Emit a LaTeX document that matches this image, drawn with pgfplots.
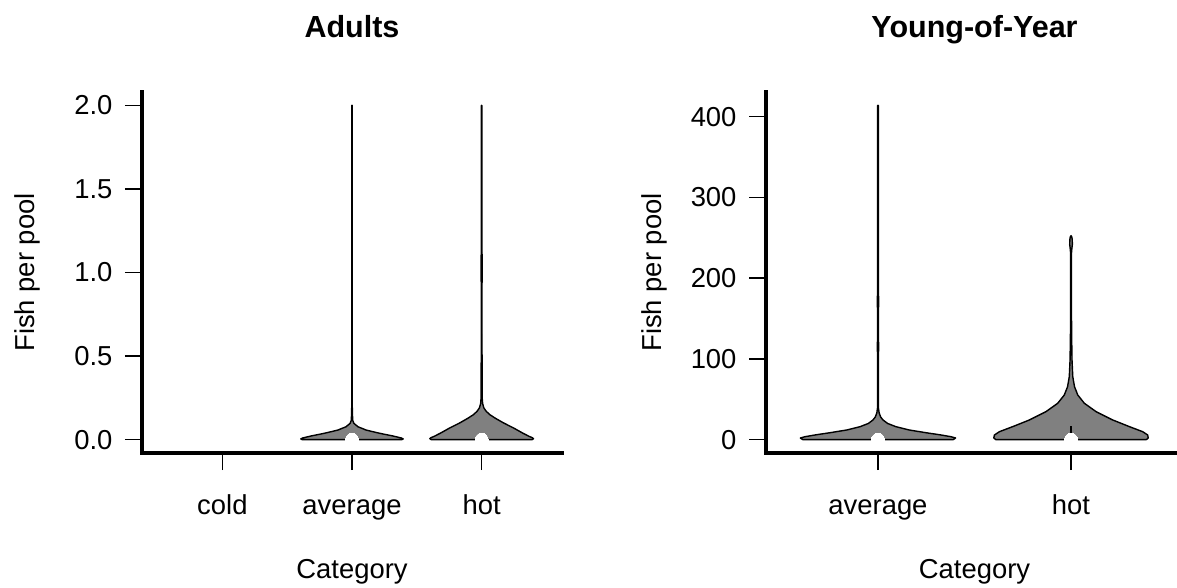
\documentclass[border=0pt]{standalone}
\usepackage{pgfplots}
\pgfplotsset{compat=1.18}
\usepackage{fontspec}
\setmainfont{Liberation Sans}
\definecolor{violgray}{RGB}{128,128,128}
\pgfplotsset{
  rstyle/.style={
    scale only axis,
    height=361pt,
    axis x line*=bottom,
    axis y line*=left,
    axis line style={line width=4pt, line cap=rect, black},
    tick align=outside,
    major tick length=17pt,
    tick style={line width=1.5pt, black},
    tick label style={font=\fontsize{27.4}{31}\selectfont},
    yticklabel style={xshift=-9pt},
    xticklabel style={text height=19pt, text depth=6pt, yshift=-22pt},
    /pgf/number format/assume math mode=true,
    title style={font=\bfseries\fontsize{30.5}{36}\selectfont, at={(axis description cs:0.5,1.133)}, anchor=base},
    xlabel style={font=\fontsize{27.4}{31}\selectfont, at={(axis description cs:0.5,-0.3463)}, anchor=base},
    ylabel style={font=\fontsize{27.4}{31}\selectfont, anchor=base},
    clip=false,
  },
  viol/.style={fill=violgray, draw=black, line width=1.4pt, line join=round, mark=none},
  med/.style={only marks, white, mark=*, mark size=6.5pt, mark options={draw=white, fill=white, line width=0pt}},
}
\begin{document}
\begin{tikzpicture}
\path[use as bounding box] (0,0) rectangle (1177pt,587pt);
% ---------------- Adults ----------------
\begin{axis}[rstyle,
  at={(142pt,134pt)}, anchor=south west,
  width=420pt,
  xmin=0.38, xmax=3.62, ymin=-0.08, ymax=2.08,
  xtick={1,2,3}, xticklabels={cold,average,hot},
  ytick={0,0.5,1,1.5,2},
  yticklabel style={/pgf/number format/.cd, fixed, fixed zerofill, precision=1},
  title={Adults}, xlabel={Category}, ylabel={Fish per pool},
  ylabel style={at={(axis description cs:-0.2548,0.5)}},
]
\addplot[viol] coordinates {
(1.615,0) (1.605,0.004) (1.620,0.010) (1.685,0.022) (1.787,0.038) (1.890,0.057) (1.954,0.077) (1.986,0.098) (1.995,0.117) (1.998,0.2) (1.998,2.0)
(2.002,2.0) (2.002,0.2) (2.005,0.117) (2.014,0.098) (2.046,0.077) (2.110,0.057) (2.213,0.038) (2.315,0.022) (2.380,0.010) (2.395,0.004) (2.385,0) (1.615,0)};
\addplot[viol] coordinates {
(2.610,0) (2.600,0.006) (2.610,0.012) (2.635,0.02) (2.685,0.04) (2.754,0.07) (2.831,0.1) (2.892,0.127) (2.938,0.15) (2.965,0.17) (2.983,0.19) (2.992,0.215) (2.996,0.25) (2.998,0.9) (2.9965,0.95) (2.9965,1.1) (2.998,1.15) (2.998,2.0)
(3.002,2.0) (3.002,1.15) (3.0035,1.1) (3.0035,0.95) (3.002,0.9) (3.004,0.25) (3.008,0.215) (3.017,0.19) (3.035,0.17) (3.062,0.15) (3.108,0.127) (3.169,0.1) (3.246,0.07) (3.315,0.04) (3.365,0.02) (3.390,0.012) (3.400,0.006) (3.390,0) (2.610,0)};
\addplot[med] coordinates {(2,0) (3,0)};
\end{axis}
% ---------------- Young-of-Year ----------------
\begin{axis}[rstyle,
  at={(766pt,134pt)}, anchor=south west,
  width=417pt,
  xmin=0.42, xmax=2.58, ymin=-16.6, ymax=430.6,
  xtick={1,2}, xticklabels={average,hot},
  ytick={0,100,200,300,400},
  title={Young-of-Year}, xlabel={Category}, ylabel={Fish per pool},
  ylabel style={at={(axis description cs:-0.2518,0.5)}},
]
\addplot[viol] coordinates {
(0.610,0) (0.598,2) (0.622,3.6) (0.680,6) (0.751,8.5) (0.840,12) (0.907,16) (0.950,20) (0.974,24.3) (0.986,28) (0.994,33) (0.998,40) (0.998,108) (0.9965,110) (0.9965,120) (0.998,122) (0.998,163) (0.9965,165) (0.9965,177) (0.998,179) (0.998,414)
(1.002,414) (1.002,179) (1.0035,177) (1.0035,165) (1.002,163) (1.002,122) (1.0035,120) (1.0035,110) (1.002,108) (1.002,40) (1.006,33) (1.014,28) (1.026,24.3) (1.050,20) (1.093,16) (1.160,12) (1.249,8.5) (1.320,6) (1.378,3.6) (1.402,2) (1.390,0) (0.610,0)};
\addplot[viol] coordinates {
(1.610,0) (1.600,2) (1.603,5.7) (1.629,9.8) (1.697,16) (1.784,24.3) (1.870,34.6) (1.931,45) (1.965,55.2) (1.982,65.5) (1.991,78) (1.995,99) (1.997,132) (1.998,173) (1.998,230) (1.996,236) (1.993,242) (1.994,248) (1.996,251) (2.000,252.6)
(2.004,251) (2.006,248) (2.007,242) (2.004,236) (2.002,230) (2.002,173) (2.003,132) (2.005,99) (2.009,78) (2.018,65.5) (2.035,55.2) (2.069,45) (2.130,34.6) (2.216,24.3) (2.303,16) (2.371,9.8) (2.397,5.7) (2.400,2) (2.390,0) (1.610,0)};
\addplot[black, line width=1.4pt, mark=none] coordinates {(2,0) (2,17)};
\addplot[med] coordinates {(1,0) (2,0)};
\end{axis}
\end{tikzpicture}
\end{document}
